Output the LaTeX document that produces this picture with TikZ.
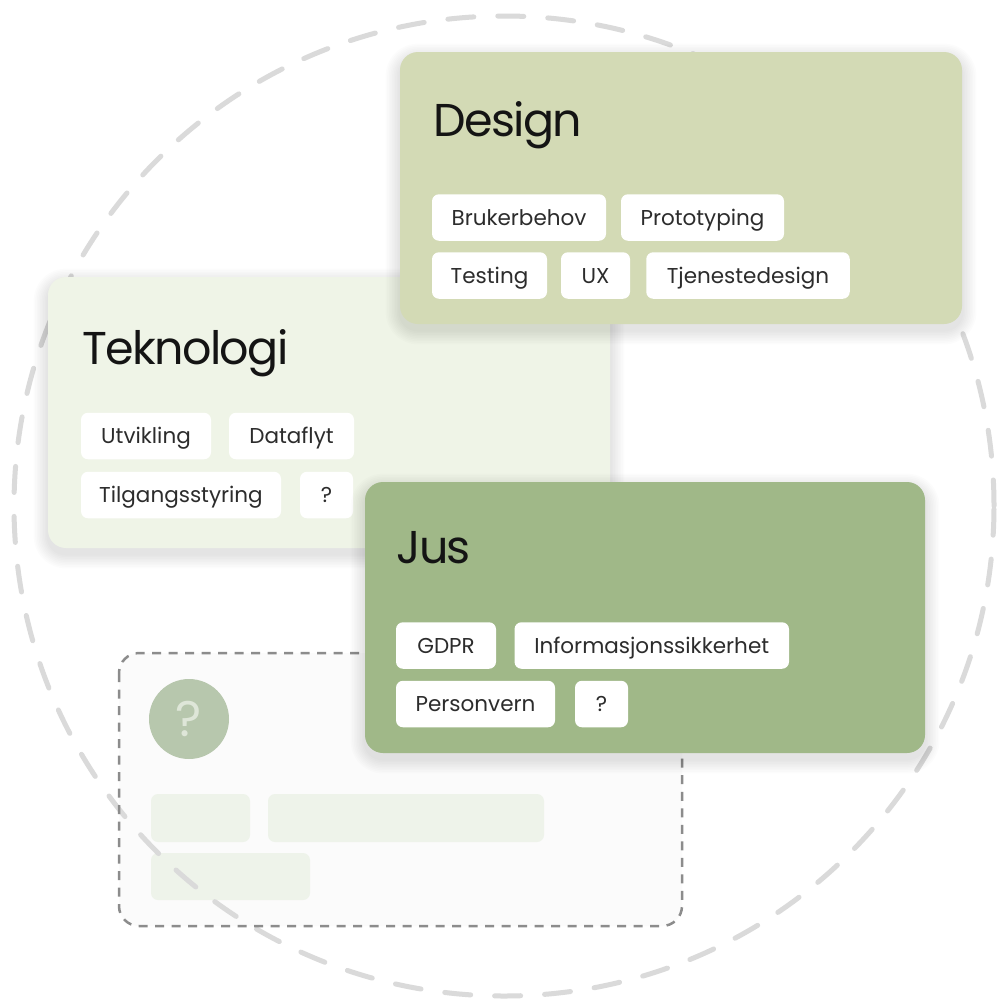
\documentclass[tikz,border=0pt]{standalone}
\usepackage{fontspec}
\setmainfont{Poppins}
\definecolor{designbg}{RGB}{211,218,181}
\definecolor{teknobg}{RGB}{239,244,231}
\definecolor{jusbg}{RGB}{160,184,136}
\definecolor{circgray}{RGB}{218,218,218}
\definecolor{boxgray}{RGB}{140,140,140}
\definecolor{boxfill}{RGB}{251,251,251}
\definecolor{barfill}{RGB}{238,243,234}
\definecolor{qfill}{RGB}{183,199,173}
\definecolor{qtext}{RGB}{222,230,216}
\definecolor{inktext}{RGB}{20,20,20}
\newcommand{\softshadow}[4]{%
  \foreach \k in {1,...,9}{%
    \fill[black, opacity=0.011, rounded corners=18pt+\k*1.6pt]
      (#1-\k*1.6, #2-\k*1.6+6) rectangle (#3+\k*1.6, #4+\k*1.6+6);
  }%
}
\tikzset{
  cardtitle/.style={anchor=base west, inner sep=0pt, font=\fontsize{46}{50}\selectfont\addfontfeatures{LetterSpace=-3.5}, text=inktext},
  tag/.style={rectangle, rounded corners=7pt, fill=white, minimum height=46.5pt, inner sep=0pt, text height=15pt, text depth=0pt, font=\fontsize{21.5}{24}\selectfont, text=inktext!90},
  bar/.style={fill=barfill, rounded corners=7pt},
}
\begin{document}
\begin{tikzpicture}[x=1pt,y=-1pt]
\useasboundingbox (0,0) rectangle (1000,1004);
\fill[white] (0,0) rectangle (1000,1004);
% placeholder dashed box
\fill[boxfill, rounded corners=20pt] (119,653) rectangle (682,926);
\fill[bar] (151,794) rectangle (250,842);
\fill[bar] (268,794) rectangle (544,842);
\fill[bar] (151,853) rectangle (310,900);
% big dashed circle
\node[circle, draw=circgray, line width=5pt, dash pattern=on 26pt off 24pt, line cap=round, minimum size=980pt, inner sep=0pt] (ring) at (504,506) {};
\draw[boxgray, line width=2.5pt, dash pattern=on 9pt off 7.5pt, rounded corners=20pt] (119,653) rectangle (682,926);
\node[circle, fill=qfill, minimum size=80pt, inner sep=0pt, text height=35pt, text depth=0pt, text=qtext, font=\fontsize{50}{52}\selectfont] (qmark) at (189,719) {?};
% Teknologi card
\softshadow{48}{277}{610}{548}
\fill[teknobg, rounded corners=18pt] (48,277) rectangle (610,548);
\node[cardtitle] (tekno) at (82,364) {Teknologi};
\node[tag, minimum width=130pt] (utvikling) at (146,436) {Utvikling};
\node[tag, minimum width=125pt] (dataflyt) at (291.5,436) {Dataflyt};
\node[tag, minimum width=200pt] (tilgang) at (181,495) {Tilgangsstyring};
\node[tag, minimum width=53pt] (tq) at (326.5,495) {?};
% Design card
\softshadow{400}{52}{962}{324}
\fill[designbg, rounded corners=18pt] (400,52) rectangle (962,324);
\node[cardtitle] (design) at (433,136) {Design};
\node[tag, minimum width=174pt] (brukerbehov) at (519,217.5) {Brukerbehov};
\node[tag, minimum width=163pt] (prototyping) at (702.5,217.5) {Prototyping};
\node[tag, minimum width=115pt] (testing) at (489.5,275.5) {Testing};
\node[tag, minimum width=69pt] (ux) at (595.5,275.5) {UX};
\node[tag, minimum width=203.5pt] (tjeneste) at (748,275.5) {Tjenestedesign};
% Jus card
\softshadow{365}{482}{925}{753}
\fill[jusbg, rounded corners=18pt] (365,482) rectangle (925,753);
\node[cardtitle] (jus) at (396,563) {Jus};
\node[tag, minimum width=100pt] (gdpr) at (446,645.5) {GDPR};
\node[tag, minimum width=274.5pt] (info) at (651.75,645.5) {Informasjonssikkerhet};
\node[tag, minimum width=159pt] (personvern) at (475.5,704) {Personvern};
\node[tag, minimum width=53pt] (jq) at (601.5,704) {?};
\end{tikzpicture}
\end{document}
